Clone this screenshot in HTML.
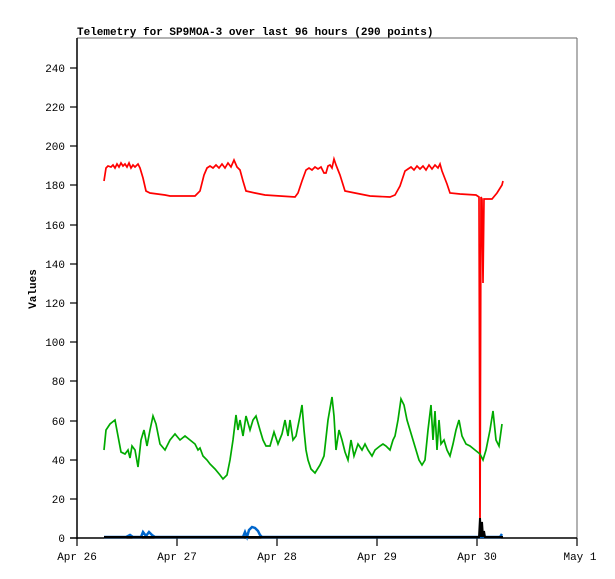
<!DOCTYPE html>
<html><head><style>body{margin:0;background:#fff}svg{display:block}text{font-family:"Liberation Mono","DejaVu Sans Mono",monospace;font-size:11px;fill:#000}</style></head><body>
<svg width="615" height="579" xmlns="http://www.w3.org/2000/svg">
<rect width="615" height="579" fill="#fff"/>
<text x="77" y="35" font-weight="bold">Telemetry for SP9MOA-3 over last 96 hours (290 points)</text>
<line x1="77" y1="38" x2="577" y2="38" stroke="#666"/>
<line x1="577" y1="38" x2="577" y2="538" stroke="#666"/>
<line x1="77" y1="38" x2="77" y2="539" stroke="#000" stroke-width="1.5"/>
<line x1="70" y1="538" x2="577" y2="538" stroke="#000" stroke-width="1.5"/>
<g stroke="#000" stroke-width="1.2">
<line x1="70" y1="499" x2="77" y2="499"/><line x1="70" y1="460" x2="77" y2="460"/><line x1="70" y1="421" x2="77" y2="421"/><line x1="70" y1="381" x2="77" y2="381"/><line x1="70" y1="342" x2="77" y2="342"/><line x1="70" y1="303" x2="77" y2="303"/><line x1="70" y1="264" x2="77" y2="264"/><line x1="70" y1="225" x2="77" y2="225"/><line x1="70" y1="185" x2="77" y2="185"/><line x1="70" y1="146" x2="77" y2="146"/><line x1="70" y1="107" x2="77" y2="107"/><line x1="70" y1="68" x2="77" y2="68"/>
<line x1="77" y1="538" x2="77" y2="546"/><line x1="177" y1="538" x2="177" y2="546"/><line x1="277" y1="538" x2="277" y2="546"/><line x1="377" y1="538" x2="377" y2="546"/><line x1="477" y1="538" x2="477" y2="546"/><line x1="577" y1="538" x2="577" y2="546"/>
</g>
<g text-anchor="end">
<text x="65" y="542">0</text><text x="65" y="503">20</text><text x="65" y="464">40</text><text x="65" y="425">60</text><text x="65" y="385">80</text><text x="65" y="346">100</text><text x="65" y="307">120</text><text x="65" y="268">140</text><text x="65" y="229">160</text><text x="65" y="189">180</text><text x="65" y="150">200</text><text x="65" y="111">220</text><text x="65" y="72">240</text>
</g>
<g text-anchor="middle">
<text x="77" y="560">Apr 26</text><text x="177" y="560">Apr 27</text><text x="277" y="560">Apr 28</text><text x="377" y="560">Apr 29</text><text x="477" y="560">Apr 30</text><text x="580" y="560">May 1</text>
</g>
<text x="36" y="289" font-weight="bold" text-anchor="middle" transform="rotate(-90 36 289)">Values</text>
<polyline fill="none" stroke="#f00" stroke-width="1.7" points="104,181 106,168 108,166 111,167 113,165 115,168 117,164 119,167 121,163 123,166 125,164 127,167 129,163 131,168 133,165 135,167 138,164 140,168 143,178 146,191 150,193 165,195 170,196 195,196 200,191 204,175 207,168 210,166 213,168 216,165 219,168 222,164 225,168 228,163 231,167 234,160 237,167 240,170 243,181 246,191 255,193 265,195 280,196 295,197 298,193 302,181 306,170 309,168 312,170 315,167 318,169 321,167 324,173 326,173 328,166 330,165 332,168 334,159 336,165 338,170 340,175 345,191 355,193 370,196 390,197 395,195 400,186 405,171 408,169 411,167 414,170 417,166 420,169 423,166 426,170 429,165 432,169 435,165 438,168 440,164 442,171 447,184 450,193 460,194 476,195 479,197 480,538 481,197 482,199 483,283 484,199 485,199 492,199 497,193 502,185 503,181"/>
<polyline fill="none" stroke="#0a0" stroke-width="1.7" points="104,450 106,430 110,424 115,420 118,436 121,452 125,454 128,450 130,458 132,446 135,450 138,467 141,440 144,430 147,446 150,430 153,416 156,424 160,444 165,450 170,440 175,434 180,440 185,436 190,440 195,444 198,450 200,448 203,456 207,460 210,464 215,469 220,475 223,479 227,475 230,460 233,440 236,415 238,430 240,420 243,436 246,416 250,430 253,420 256,416 260,430 263,440 266,446 270,446 274,432 278,444 282,434 285,420 288,436 290,420 293,440 296,436 300,416 302,405 304,430 306,450 308,460 311,469 315,473 320,465 324,456 328,420 332,397 334,416 336,450 339,430 342,440 345,452 348,460 351,440 354,456 358,444 362,450 365,444 368,450 372,456 375,450 380,446 383,444 386,446 390,450 393,440 395,436 398,420 401,399 404,405 407,420 410,430 413,440 416,450 419,460 422,465 425,460 428,430 431,405 433,440 435,411 437,450 439,420 441,444 444,440 447,450 450,456 453,444 456,430 459,420 462,436 466,444 470,446 475,450 480,454 483,460 486,450 490,430 493,411 496,440 499,446 502,424"/>
<polyline fill="none" stroke="#06c" stroke-width="2.5" points="104,537 110,537 126,537 130,535 133,537 141,537 143,532 146,536 149,532 152,535 155,537 160,537 243,537 245,532 247,537 249,530 252,527 255,528 258,531 260,535 262,537 500,537 502,534"/>
<polyline fill="none" stroke="#000" stroke-width="2" points="104,537 479,537 480,518 481,537 482,522 483,537 484,531 485,537 503,537"/>
</svg>
</body></html>
